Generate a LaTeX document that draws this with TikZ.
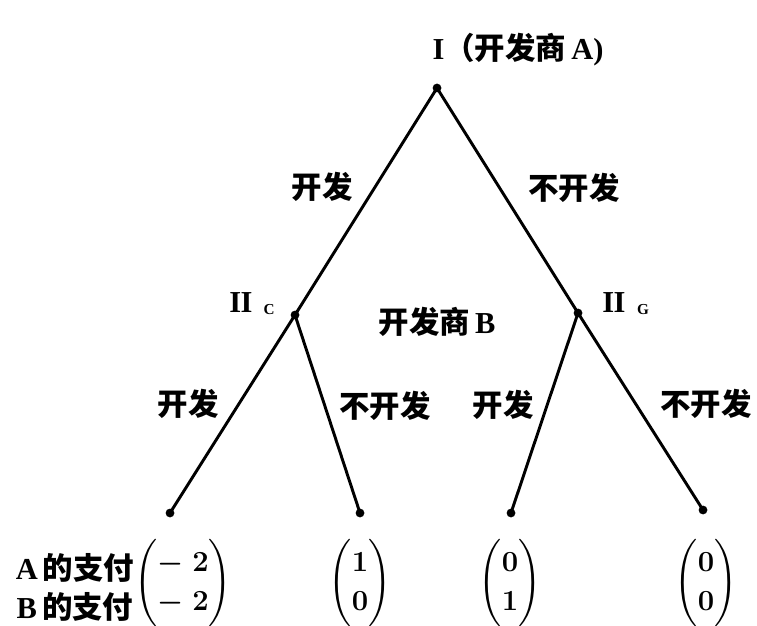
\documentclass[tikz,border=0pt]{standalone}
\usepackage{fontspec}
\setmainfont{Liberation Serif}
\newfontfamily\cjk{Noto Sans CJK SC}
\usepackage{amsmath}
\usepackage{tkz-euclide}
\newcommand\zh[1]{{\cjk #1}}
\tikzset{lbl/.style={font=\fontsize{26}{30}\selectfont\bfseries,inner sep=0pt},
  sub/.style={font=\fontsize{13}{15}\selectfont\bfseries,inner sep=0pt},
  pay/.style={font=\fontsize{25}{30}\selectfont\boldmath,inner sep=0pt}}

\begin{document}
\begin{tikzpicture}[x=0.03cm,y=-0.03cm]
  \useasboundingbox (0,0) rectangle (757,626);
  \tkzDefPoint(437,88){R}
  \tkzDefPoint(295,315){C}
  \tkzDefPoint(578,313){G}
  \tkzDefPoint(170,513){a}
  \tkzDefPoint(360,513){b}
  \tkzDefPoint(511,513){c}
  \tkzDefPoint(703,510){d}
  \tkzDrawSegments[line width=2.5pt](R,C R,G C,a C,b G,c G,d)
  \tkzDrawPoints[size=7,color=black,fill=black](R,C,G,a,b,c,d)
  % players
  \node[lbl] (pA) at (518,50) {I\zh{（开发商}\,A)};
  \node[lbl] (pC) at (241,303) {I\kern-0.5ptI};
  \node[sub] (sC) at (269,310) {C};
  \node[lbl] (pB) at (437,322) {\zh{开发商}\,B};
  \node[lbl] (pG) at (614,303) {I\kern-0.5ptI};
  \node[sub] (sG) at (643,310) {G};
  % moves
  \node[lbl] (m1) at (322,187) {\zh{开发}};
  \node[lbl] (m2) at (574,188) {\zh{不开发}};
  \node[lbl] (m3) at (188,404) {\zh{开发}};
  \node[lbl] (m4) at (385,406) {\zh{不开发}};
  \node[lbl] (m5) at (503,405) {\zh{开发}};
  \node[lbl] (m6) at (706,404) {\zh{不开发}};
  % payoffs
  \node[lbl] (yA) at (75,568) {A\,\zh{的支付}};
  \node[lbl] (yB) at (75,607) {B\,\zh{的支付}};
  \renewcommand\arraystretch{1.1}
  \node[pay] (v1) at (183,583) {$\begin{pmatrix}-\;2\\-\;2\end{pmatrix}$};
  \node[pay] (v2) at (360,583) {$\begin{pmatrix}1\\0\end{pmatrix}$};
  \node[pay] (v3) at (510,583) {$\begin{pmatrix}0\\1\end{pmatrix}$};
  \node[pay] (v4) at (706,583) {$\begin{pmatrix}0\\0\end{pmatrix}$};
\end{tikzpicture}
\end{document}
